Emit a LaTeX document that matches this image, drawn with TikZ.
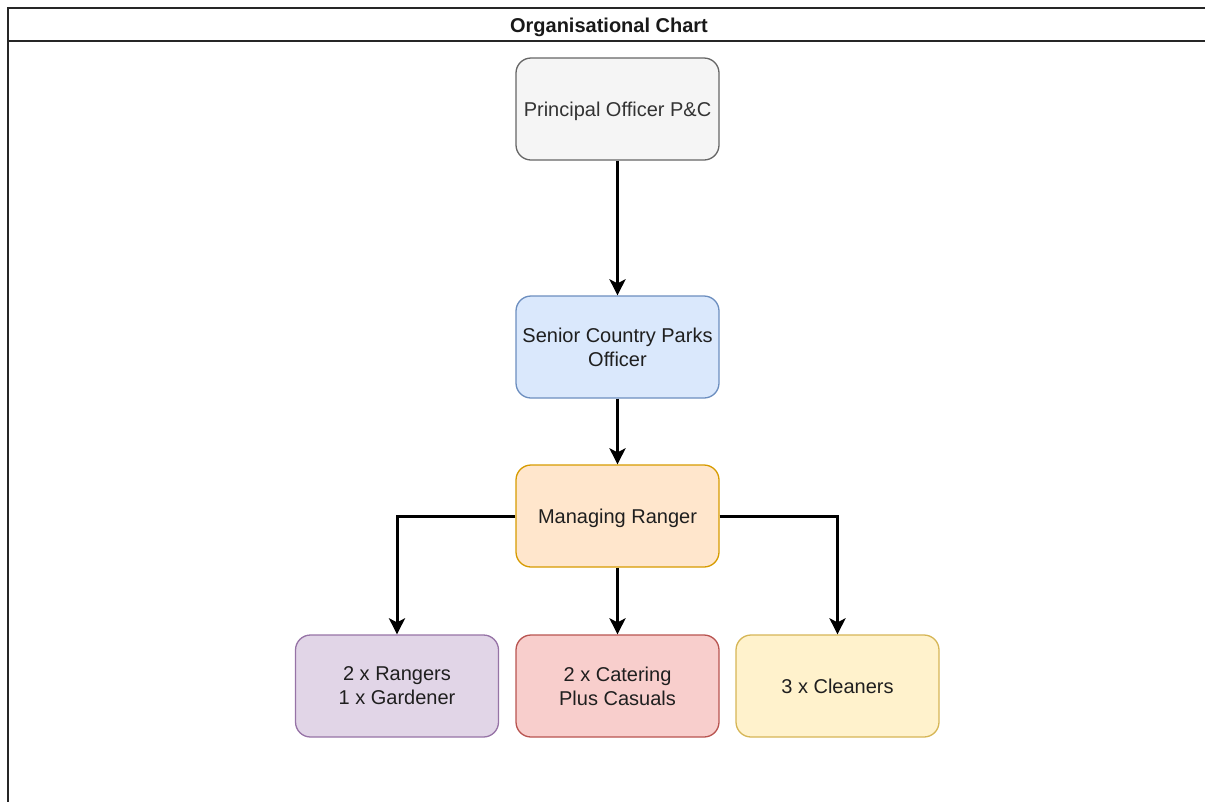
\documentclass[tikz,border=0pt]{standalone}
\usepackage{fontspec}
\setmainfont{Liberation Sans}
\usetikzlibrary{arrows.meta}
\definecolor{grayfill}{HTML}{F5F5F5}\definecolor{graystroke}{HTML}{666666}\definecolor{graytext}{HTML}{333333}
\definecolor{bluefill}{HTML}{DAE8FC}\definecolor{bluestroke}{HTML}{6C8EBF}
\definecolor{orangefill}{HTML}{FFE6CC}\definecolor{orangestroke}{HTML}{D79B00}
\definecolor{purplefill}{HTML}{E1D5E7}\definecolor{purplestroke}{HTML}{9673A6}
\definecolor{redfill}{HTML}{F8CECC}\definecolor{redstroke}{HTML}{B85450}
\definecolor{yellowfill}{HTML}{FFF2CC}\definecolor{yellowstroke}{HTML}{D6B656}
\definecolor{boxtext}{HTML}{1F1F1F}
\tikzset{
  orgbox/.style={rectangle, rounded corners=15pt, line width=1.3pt, minimum width=203pt, minimum height=102pt,
    inner sep=0pt, align=center, text depth=0pt, text=boxtext, font=\fontsize{20}{24}\selectfont},
  link/.style={line width=3pt, -{Stealth[length=16pt, width=16pt, inset=4pt]}},
  framebox/.style={line width=2pt, draw=black!85}
}
\begin{document}
\begin{tikzpicture}[x=1pt, y=-1pt]
\useasboundingbox (0,0) rectangle (1205,801);
\draw[framebox] (8,8) rectangle (1215,815);
\draw[framebox] (8,41) -- (1215,41);
\node[font=\bfseries\fontsize{20}{24}\selectfont, text depth=0pt, text=black!90] (title) at (609,25) {Organisational Chart};
\node[orgbox, fill=grayfill, draw=graystroke, text=graytext] (p) at (617.5,109) {Principal Officer P\&C};
\node[orgbox, fill=bluefill, draw=bluestroke] (s) at (617.5,347) {Senior Country Parks\\Officer};
\node[orgbox, fill=orangefill, draw=orangestroke] (m) at (617.5,516) {Managing Ranger};
\node[orgbox, fill=purplefill, draw=purplestroke] (r) at (397,686) {2 x Rangers\\1 x Gardener};
\node[orgbox, fill=redfill, draw=redstroke] (c) at (617.5,686) {2 x Catering\\Plus Casuals};
\node[orgbox, fill=yellowfill, draw=yellowstroke] (cl) at (837.5,686) {3 x Cleaners};
\draw[link] (p) -- (s);
\draw[link] (s) -- (m);
\draw[link] (m) -- (c);
\draw[link] (m.west) -| (r.north);
\draw[link] (m.east) -| (cl.north);
\end{tikzpicture}
\end{document}
